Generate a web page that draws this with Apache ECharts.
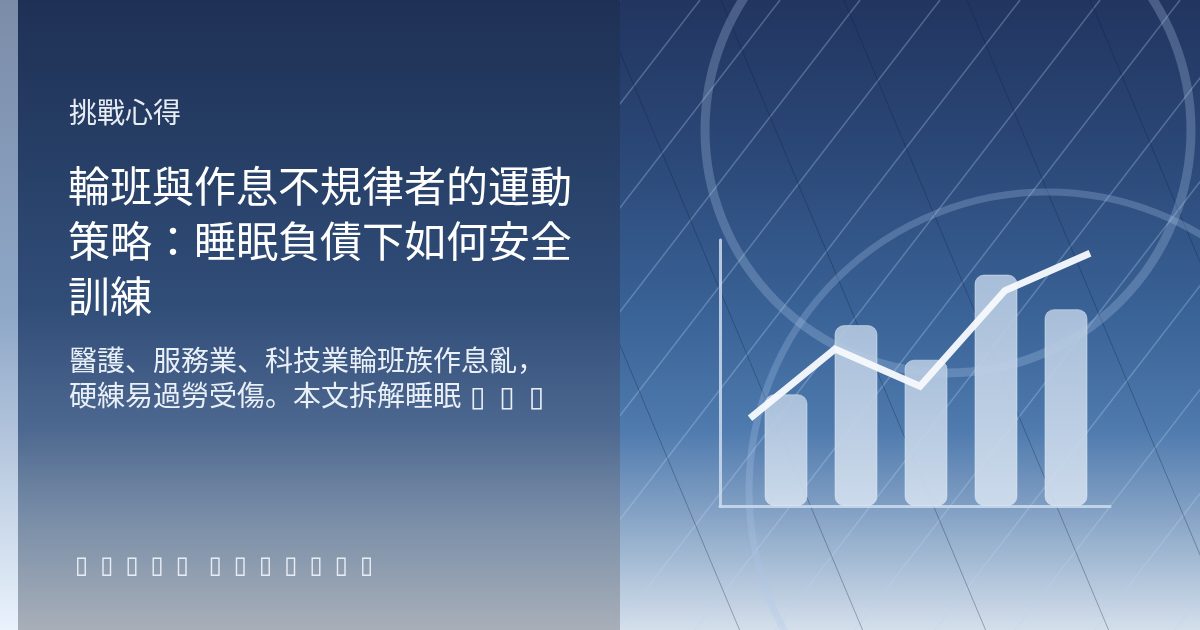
<!DOCTYPE html>
<html>
<head>
<meta charset="utf-8">
<script src="https://cdn.jsdelivr.net/npm/echarts@6/dist/echarts.min.js"></script>
<style>
html,body{margin:0;padding:0;background:#233660;}
#c{width:1200px;height:630px;}
</style>
</head>
<body>
<div id="c"></div>
<script>
// ---- data ----
const categories = ['1', '2', '3', '4', '5'];
const barValues = [42, 68, 55, 87, 74];
const lineValues = [33, 59, 45, 81, 95];
const kicker = '挑戰心得';
const titleLines = ['輪班與作息不規律者的運動', '策略：睡眠負債下如何安全', '訓練'];
const subtitleLines = ['醫護、服務業、科技業輪班族作息亂，', '硬練易過勞受傷。本文拆解睡眠 ▯\u2002▯\u2002▯'];
const footerText = '▯\u2002▯\u2002▯\u2002▯\u2002▯\u2002 ▯\u2002▯\u2002▯\u2002▯\u2002▯\u2002▯\u2002▯';

// ---- decoration ----
const CJK = '"Noto Sans CJK JP", "Noto Sans CJK SC", sans-serif';
const MIX = '"DejaVu Sans", "Noto Sans CJK JP", sans-serif';
const g = [];
// right background
g.push({type:'rect', z:-10, shape:{x:0,y:0,width:1200,height:630}, style:{fill:{type:'linear',x:0,y:0,x2:0,y2:1,colorStops:[
  {offset:0,color:'#223560'},{offset:0.25,color:'#2b4878'},{offset:0.5,color:'#3a6397'},{offset:0.68,color:'#4e7aae'},{offset:0.8,color:'#7e9dc2'},{offset:1,color:'#d4dfeb'}]}}});
// light diagonal lines
for (let k = -1; k <= 13; k++) {
  const x0 = 700 + 80 * k;
  g.push({type:'line', z:-9, shape:{x1:x0, y1:0, x2:x0 - 0.77*630, y2:630}, style:{stroke:'rgba(190,212,242,0.3)', lineWidth:1.5}});
}
// dark diagonal lines
for (let k = -3; k <= 6; k++) {
  const x0 = 598 + 123 * k;
  g.push({type:'line', z:-9, shape:{x1:x0, y1:0, x2:x0 + 0.42*630, y2:630}, style:{stroke:'rgba(15,30,60,0.32)', lineWidth:1}});
}
// circles
g.push({type:'circle', z:-8, shape:{cx:948, cy:130, r:243}, style:{fill:'none', stroke:'rgba(175,200,235,0.28)', lineWidth:9}});
g.push({type:'circle', z:-8, shape:{cx:1047, cy:490, r:298}, style:{fill:'none', stroke:'rgba(175,200,235,0.27)', lineWidth:7}});
// left strip
g.push({type:'rect', z:-5, shape:{x:0,y:0,width:18,height:630}, style:{fill:{type:'linear',x:0,y:0,x2:0,y2:1,colorStops:[
  {offset:0,color:'#7b8ca8'},{offset:0.5,color:'#8fa8c8'},{offset:1,color:'#eaf2fc'}]}}});
// left panel
g.push({type:'rect', z:-5, shape:{x:18,y:0,width:602,height:630}, style:{fill:{type:'linear',x:0,y:0,x2:0,y2:1,colorStops:[
  {offset:0,color:'#1f3055'},{offset:0.2,color:'#253c63'},{offset:0.48,color:'#304d78'},{offset:0.68,color:'#4d6890'},{offset:0.83,color:'#7b8fa8'},{offset:1,color:'#a8afb9'}]}}});
// texts
g.push({type:'text', z:10, style:{text:kicker, x:69, y:112, fill:'#e8edf5', font:'28px ' + CJK, verticalAlign:'middle'}});
titleLines.forEach((t,i)=>{
  g.push({type:'text', z:10, style:{text:t, x:68, y:186 + 55*i, fill:'#ffffff', font:'42px ' + CJK, verticalAlign:'middle'}});
});
subtitleLines.forEach((t,i)=>{
  g.push({type:'text', z:10, style:{text:t, x:69, y:360 + 39*i, fill:'#e9eff7', font:'28px ' + (i === 1 ? MIX : CJK), verticalAlign:'middle'}});
});
g.push({type:'text', z:10, style:{text:footerText, x:75, y:567, fill:'#e8edf4', font:'24px "DejaVu Sans"', verticalAlign:'middle'}});

const chart = echarts.init(document.getElementById('c'));
const axisColor = 'rgba(205,220,238,0.85)';
chart.setOption({
  animation:false,
  graphic: g,
  grid:[
    {left:720, top:240, width:390, height:266},
    {left:751, top:240, width:350, height:266},
    {left:750, top:240, width:340, height:266}
  ],
  xAxis:[
    {gridIndex:0, type:'value', min:0, max:1, axisLine:{show:true, lineStyle:{color:axisColor, width:3}}, axisTick:{show:false}, axisLabel:{show:false}, splitLine:{show:false}},
    {gridIndex:1, type:'category', data:categories, show:false},
    {gridIndex:2, type:'category', data:categories, boundaryGap:false, show:false}
  ],
  yAxis:[
    {gridIndex:0, type:'value', min:0, max:100, axisLine:{show:true, lineStyle:{color:axisColor, width:3}}, axisTick:{show:false}, axisLabel:{show:false}, splitLine:{show:false}},
    {gridIndex:1, type:'value', min:0, max:100, show:false},
    {gridIndex:2, type:'value', min:0, max:100, show:false}
  ],
  series:[
    {type:'bar', xAxisIndex:1, yAxisIndex:1, data:barValues, barWidth:43,
     itemStyle:{borderRadius:9, borderColor:'rgba(225,235,246,0.5)', borderWidth:1,
       color:{type:'linear',x:0,y:0,x2:0,y2:1,colorStops:[{offset:0,color:'rgba(180,200,224,0.9)'},{offset:1,color:'rgba(210,223,238,0.92)'}]}}},
    {type:'line', xAxisIndex:2, yAxisIndex:2, data:lineValues, symbol:'none',
     lineStyle:{color:'rgba(246,249,253,0.96)', width:7, join:'miter', cap:'butt'}}
  ]
});
</script>
</body>
</html>
